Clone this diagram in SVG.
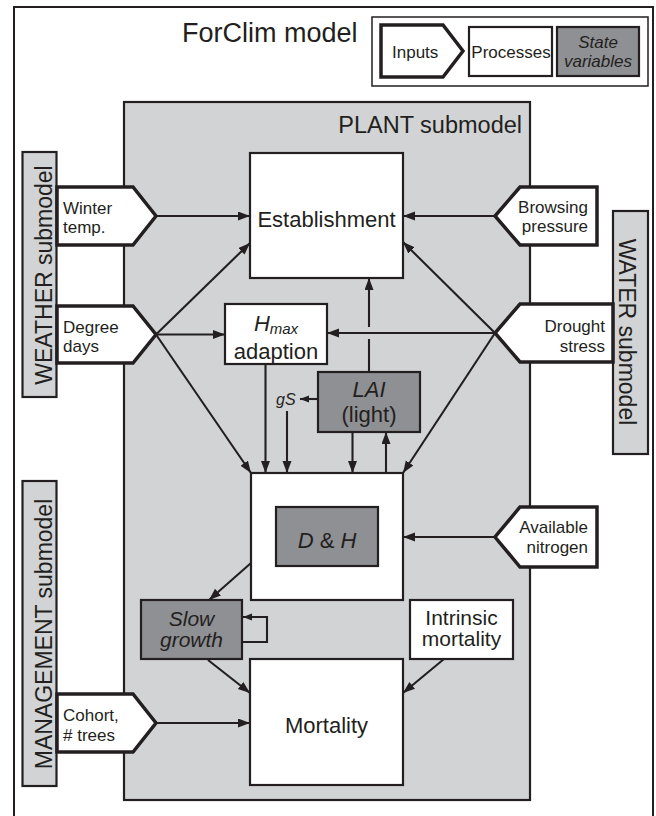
<svg xmlns="http://www.w3.org/2000/svg" width="656" height="816" viewBox="0 0 656 816">
<defs>
<style>
text{font-family:"Liberation Sans",Arial,sans-serif;fill:#231f20}
.box{fill:#fff;stroke:#231f20;stroke-width:2.2}
.state{fill:#8f9093;stroke:#231f20;stroke-width:2.2}
.sub{fill:#d1d3d4;stroke:#231f20;stroke-width:2.2}
.inp{fill:#fff;stroke:#231f20;stroke-width:3.5;stroke-linejoin:miter}
.c{fill:none;stroke:#231f20;stroke-width:2.1}
.big{font-size:22px}
.two{font-size:21px}
.lbl{font-size:17px}
.sm{font-size:23px}
.it{font-style:italic}
</style>
<marker id="ah" markerUnits="userSpaceOnUse" markerWidth="13" markerHeight="10" refX="12" refY="4.5" orient="auto">
<path d="M0,0 L12,4.5 L0,9 z" fill="#231f20"/>
</marker>
<marker id="ahs" markerUnits="userSpaceOnUse" markerWidth="10" markerHeight="8" refX="9" refY="3.5" orient="auto">
<path d="M0,0 L9,3.5 L0,7 z" fill="#231f20"/>
</marker>
</defs>
<rect width="656" height="816" fill="#fff"/>
<g id="frame">
<rect x="14" y="7" width="639" height="820" fill="#fff" stroke="#231f20" stroke-width="2"/>
<text x="182" y="42" style="font-size:27px">ForClim model</text>
</g>
<g id="legend">
<rect x="372" y="17" width="276" height="69" fill="#fff" stroke="#231f20" stroke-width="1.5"/>
<path class="inp" d="M381,25 H443 L463,51 L443,77 H381 Z"/>
<text class="lbl" x="392" y="58">Inputs</text>
<rect class="box" x="469" y="27" width="83" height="49"/>
<text class="lbl" x="511" y="58" text-anchor="middle">Processes</text>
<rect class="state" x="557" y="27" width="82" height="49"/>
<text class="lbl it" x="598" y="48" text-anchor="middle">State</text>
<text class="lbl it" x="598" y="67" text-anchor="middle">variables</text>
</g>
<g id="plant">
<rect class="sub" x="124" y="102" width="406" height="698"/>
<text x="522" y="133" text-anchor="end" style="font-size:23.5px">PLANT submodel</text>
</g>
<g id="weather">
<rect class="sub" x="22.5" y="152" width="34" height="245"/>
<text class="sm" transform="translate(52,275) rotate(-90)" text-anchor="middle">WEATHER submodel</text>
</g>
<g id="water">
<rect class="sub" x="613" y="211" width="35" height="243"/>
<text class="sm" transform="translate(619,332) rotate(90)" text-anchor="middle">WATER submodel</text>
</g>
<g id="management">
<rect class="sub" x="22.5" y="481" width="34" height="305"/>
<text class="sm" transform="translate(52,634) rotate(-90)" text-anchor="middle">MANAGEMENT submodel</text>
</g>
<g id="connectors">
<line class="c" x1="156" y1="216" x2="250" y2="216" marker-end="url(#ah)"/>
<line class="c" x1="156" y1="334.5" x2="250" y2="243" marker-end="url(#ah)"/>
<line class="c" x1="156" y1="334.5" x2="225" y2="334.5" marker-end="url(#ah)"/>
<line class="c" x1="156" y1="334.5" x2="251" y2="473" marker-end="url(#ah)"/>
<line class="c" x1="495" y1="216" x2="403" y2="216" marker-end="url(#ah)"/>
<line class="c" x1="495" y1="333" x2="403" y2="242" marker-end="url(#ah)"/>
<line class="c" x1="495" y1="333" x2="327" y2="333" marker-end="url(#ah)"/>
<line class="c" x1="495" y1="333" x2="403" y2="473" marker-end="url(#ah)"/>
<line class="c" x1="369" y1="372" x2="369" y2="339"/>
<line class="c" x1="369" y1="327" x2="369" y2="278" marker-end="url(#ah)"/>
<line class="c" x1="265.5" y1="364" x2="265.5" y2="473" marker-end="url(#ah)"/>
<line class="c" x1="318" y1="399" x2="300" y2="399" marker-end="url(#ahs)"/>
<line class="c" x1="287" y1="411" x2="287" y2="473" marker-end="url(#ah)"/>
<line class="c" x1="352.5" y1="432" x2="352.5" y2="473" marker-end="url(#ah)"/>
<line class="c" x1="386" y1="473" x2="386" y2="432" marker-end="url(#ah)"/>
<path class="c" d="M344,507 V481 H309 V507" marker-end="url(#ah)"/>
<line class="c" x1="495" y1="537" x2="403" y2="537" marker-end="url(#ah)"/>
<line class="c" x1="251" y1="563" x2="209" y2="600" marker-end="url(#ah)"/>
<path class="c" d="M242,642 H267 V617 H243" marker-end="url(#ahs)"/>
<line class="c" x1="208" y1="660" x2="250" y2="693" marker-end="url(#ah)"/>
<line class="c" x1="156" y1="723" x2="250" y2="723" marker-end="url(#ah)"/>
<line class="c" x1="444" y1="659" x2="403" y2="693" marker-end="url(#ah)"/>
</g>
<g id="winter">
<path class="inp" d="M57,187 H133 L156,216 L133,245 H57 Z"/>
<text class="lbl" x="63" y="214">Winter</text>
<text class="lbl" x="63" y="233">temp.</text>
</g>
<g id="degree">
<path class="inp" d="M57,306 H133 L156,334.5 L133,363 H57 Z"/>
<text class="lbl" x="63" y="333">Degree</text>
<text class="lbl" x="63" y="352">days</text>
</g>
<g id="cohort">
<path class="inp" d="M57,694 H133 L156,723 L133,752 H57 Z"/>
<text class="lbl" x="63" y="721">Cohort,</text>
<text class="lbl" x="63" y="741"># trees</text>
</g>
<g id="browsing">
<path class="inp" d="M597,187 H520 L495,216 L520,245 H597 Z"/>
<text class="lbl" x="588" y="213" text-anchor="end">Browsing</text>
<text class="lbl" x="588" y="232" text-anchor="end">pressure</text>
</g>
<g id="drought">
<path class="inp" d="M613,304 H520 L495,333 L520,362 H613 Z"/>
<text class="lbl" x="605" y="332" text-anchor="end">Drought</text>
<text class="lbl" x="605" y="352" text-anchor="end">stress</text>
</g>
<g id="nitrogen">
<path class="inp" d="M597,507 H520 L495,537 L520,567 H597 Z"/>
<text class="lbl" x="588" y="533" text-anchor="end">Available</text>
<text class="lbl" x="588" y="553" text-anchor="end">nitrogen</text>
</g>
<g id="establishment">
<rect class="box" x="250" y="153" width="153" height="125"/>
<text class="big" x="326.5" y="227" text-anchor="middle">Establishment</text>
</g>
<g id="hmax">
<rect class="box" x="225" y="304" width="102" height="60"/>
<text class="big it" x="276" y="331" text-anchor="middle">H<tspan style="font-size:15px" dy="3">max</tspan></text>
<text class="big" x="276" y="359" text-anchor="middle">adaption</text>
</g>
<g id="lai">
<rect class="state" x="318" y="372" width="102" height="60"/>
<text class="big it" x="369" y="397" text-anchor="middle">LAI</text>
<text class="big" x="369" y="422" text-anchor="middle">(light)</text>
</g>
<g id="gs">
<text class="it" x="276" y="405" style="font-size:16px">gS</text>
</g>
<g id="growth">
<rect class="box" x="251" y="473" width="152" height="127"/>
</g>
<g id="dh">
<rect class="state" x="276" y="507" width="102" height="59"/>
<text class="big" x="327" y="548" text-anchor="middle"><tspan class="it">D</tspan> &amp; <tspan class="it">H</tspan></text>
</g>
<g id="slowgrowth">
<rect class="state" x="141" y="600" width="101" height="59"/>
<text class="two it" x="191.5" y="626" text-anchor="middle">Slow</text>
<text class="two it" x="191.5" y="647" text-anchor="middle">growth</text>
</g>
<g id="intrinsic">
<rect class="box" x="410" y="600" width="103" height="59"/>
<text class="two" x="461.5" y="625" text-anchor="middle">Intrinsic</text>
<text class="two" x="461.5" y="646" text-anchor="middle">mortality</text>
</g>
<g id="mortality">
<rect class="box" x="250" y="659" width="153" height="126"/>
<text class="big" x="326.5" y="733" text-anchor="middle">Mortality</text>
</g>
</svg>
